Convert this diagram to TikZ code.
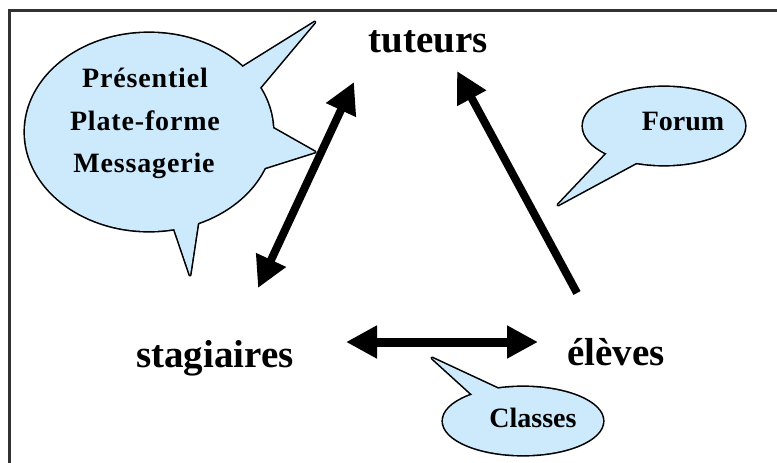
\documentclass[tikz,border=0pt]{standalone}
\usepackage{fontspec}
\setmainfont{Liberation Serif}
\usetikzlibrary{arrows.meta}
\definecolor{bubble}{RGB}{204,234,252}
\definecolor{framec}{RGB}{50,50,50}
\tikzset{
  bigword/.style={font=\fontsize{39}{44}\selectfont\bfseries, anchor=base, inner sep=0pt},
  bubtext/.style={font=\fontsize{28}{42}\selectfont\bfseries, anchor=base, inner sep=0pt, align=center},
  widetext/.style={font=\fontsize{28}{42}\selectfont\bfseries\addfontfeature{LetterSpace=3}, anchor=base, inner sep=0pt, align=center},
  thickarrow/.style={line width=8pt, -{Triangle[length=31pt,width=31pt]}},
  dblarrow/.style={line width=8pt, {Triangle[length=31pt,width=31pt]}-{Triangle[length=31pt,width=31pt]}},
  bubout/.style={draw=black, line width=3.2pt, line join=round},
  bubfill/.style={fill=bubble}
}
\begin{document}
\begin{tikzpicture}[x=1pt,y=-1pt]
\useasboundingbox (0,0) rectangle (777,463);
% frame
\draw[framec, line width=2.4pt] (9.5,470) -- (9.5,10.5) -- (790,10.5);

% big callout: outlines first, then fills
\path[bubout] (149,132) ellipse [x radius=124, y radius=99];
\path[bubout] (238,70) -- (315,22) -- (258,90) -- cycle;
\path[bubout] (262,122) -- (315,152) -- (258,170) -- cycle;
\path[bubout] (172,222) -- (190,275) -- (198,222) -- cycle;
\path[bubfill] (149,132) ellipse [x radius=124, y radius=99];
\path[bubfill] (238,70) -- (315,22) -- (258,90) -- cycle;
\path[bubfill] (262,122) -- (315,152) -- (258,170) -- cycle;
\path[bubfill] (172,222) -- (190,275) -- (198,222) -- cycle;
\node[widetext] (pres) at (145,87) {Présentiel};
\node[widetext] (plat) at (145,130) {Plate-forme};
\node[widetext] (mess) at (144,172) {Messagerie};

% Forum callout
\path[bubout] (664,126) ellipse [x radius=81, y radius=39];
\path[bubout] (612,148) -- (558,205) -- (645,158) -- cycle;
\path[bubfill] (664,126) ellipse [x radius=81, y radius=39];
\path[bubfill] (612,148) -- (558,205) -- (645,158) -- cycle;
\node[bubtext] (forum) at (683,130) {Forum};

% Classes callout
\path[bubout] (523,421) ellipse [x radius=80, y radius=34];
\path[bubout] (476,398) -- (432,358) -- (505,392) -- cycle;
\path[bubfill] (523,421) ellipse [x radius=80, y radius=34];
\path[bubfill] (476,398) -- (432,358) -- (505,392) -- cycle;
\node[bubtext] (classes) at (533,427) {Classes};

% words
\node[bigword] (tut) at (428,52) {tuteurs};
\node[bigword] (sta) at (215,367) {stagiaires};
\node[bigword] (ele) at (616,365) {élèves};

% arrow end points
\coordinate (a1) at (258,288);
\coordinate (a2) at (354,82);
\coordinate (b1) at (577,293);
\coordinate (b2) at (457,71);
\coordinate (c1) at (346,342);
\coordinate (c2) at (538,342);
\draw[dblarrow] (a1) -- (a2);
\draw[thickarrow] (b1) -- (b2);
\draw[dblarrow, line width=9pt] (c1) -- (c2);
\end{tikzpicture}
\end{document}
